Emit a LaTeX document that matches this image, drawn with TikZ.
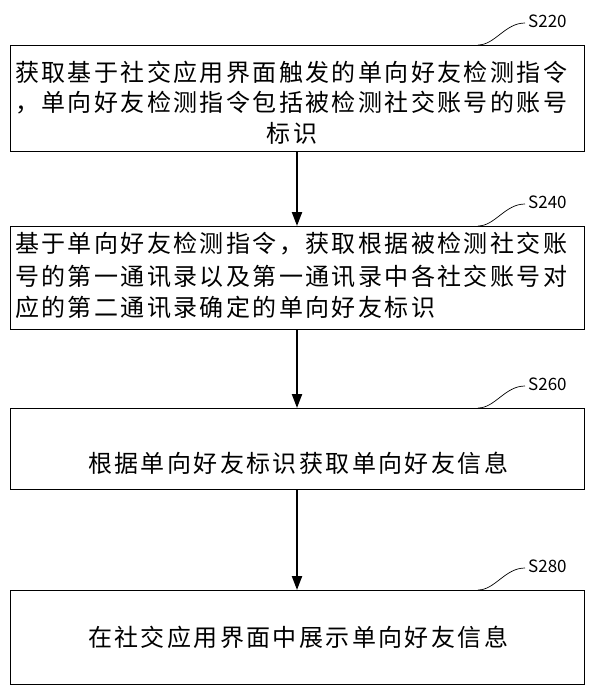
\documentclass[tikz,border=0pt]{standalone}
\usepackage{fontspec}
\setmainfont{Noto Sans CJK SC}
\usetikzlibrary{arrows.meta}
\begin{document}
\begin{tikzpicture}[x=1pt,y=-1pt,
  box/.style={draw,line width=1pt},
  txt/.style={font=\fontsize{24}{31}\selectfont,inner sep=0pt,anchor=west},
  arr/.style={-{Triangle[length=14pt,width=10pt]},line width=2.2pt},
  lab/.style={font=\fontsize{17}{20}\selectfont,anchor=west,inner sep=0pt}]
\useasboundingbox (0,0) rectangle (600,691);
\draw[box] (10,45) rectangle (584,151); \coordinate (b1t) at (297,45); \coordinate (b1b) at (297,151);
\draw[box] (10,226) rectangle (584,329); \coordinate (b2t) at (297,226); \coordinate (b2b) at (297,329);
\draw[box] (10,408) rectangle (584,489); \coordinate (b3t) at (297,408); \coordinate (b3b) at (297,489);
\draw[box] (10,590) rectangle (584,684); \coordinate (b4t) at (297,590);
\node[txt,font=\fontsize{24}{31}\selectfont\addfontfeatures{LetterSpace=10}] (t11) at (15,72) {获取基于社交应用界面触发的单向好友检测指令};
\node[txt,font=\fontsize{24}{31}\selectfont\addfontfeatures{LetterSpace=10}] (t12) at (15,103) {，单向好友检测指令包括被检测社交账号的账号};
\node[txt,anchor=center,font=\fontsize{24}{31}\selectfont\addfontfeatures{LetterSpace=10}] (t13) at (292,133) {标识};
\node[txt,font=\fontsize{24}{31}\selectfont\addfontfeatures{LetterSpace=10}] (t21) at (15,244) {基于单向好友检测指令，获取根据被检测社交账};
\node[txt,font=\fontsize{24}{31}\selectfont\addfontfeatures{LetterSpace=10}] (t22) at (15,276) {号的第一通讯录以及第一通讯录中各社交账号对};
\node[txt,font=\fontsize{24}{31}\selectfont\addfontfeatures{LetterSpace=10}] (t23) at (15,307) {应的第二通讯录确定的单向好友标识};
\node[txt,font=\fontsize{24}{31}\selectfont\addfontfeatures{LetterSpace=10}] (t3) at (88,463) {根据单向好友标识获取单向好友信息};
\node[txt,font=\fontsize{24}{31}\selectfont\addfontfeatures{LetterSpace=10}] (t4) at (88,637) {在社交应用界面中展示单向好友信息};
\draw[arr] (b1b) -- (b2t);
\draw[arr] (b2b) -- (b3t);
\draw[arr] (b3b) -- (b4t);
\foreach \y/\s in {45/S220,226/S240,408/S260,590/S280}{
  \draw[line width=0.7pt] (478,\y) .. controls (495,\y) and (505,\y-22) .. (525,\y-22);
  \node[lab] at (528,\y-24) {\s};
}
\end{tikzpicture}
\end{document}
